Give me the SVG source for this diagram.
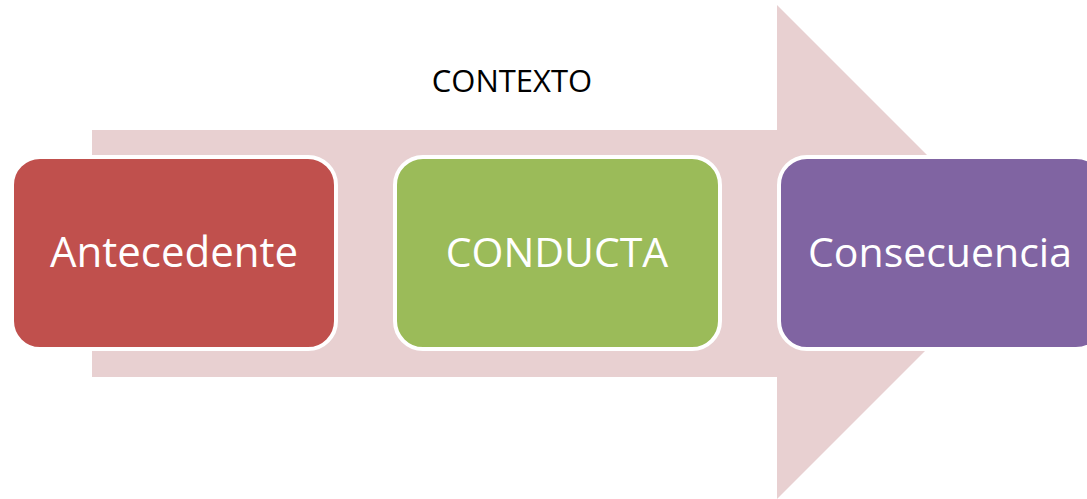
<svg xmlns="http://www.w3.org/2000/svg" width="1087" height="499" viewBox="0 0 1087 499">
<style>
.box{stroke:#ffffff;stroke-width:4}
.lbl{font-family:"Open Sans","Liberation Sans",sans-serif;font-size:41px;fill:#ffffff;text-anchor:middle}
.ctx{font-family:"Open Sans","Liberation Sans",sans-serif;font-size:31px;fill:#000000;text-anchor:middle}
</style>
<rect width="1087" height="499" fill="#ffffff"/>
<g id="context-arrow">
<polygon points="92,130 777,130 777,5 1024,252 777,499 777,377 92,377" fill="#E8D0D1"/>
<text class="ctx" x="512" y="92">CONTEXTO</text>
</g>
<g id="connectors"></g>
<g id="antecedente">
<rect class="box" x="12" y="157" width="324" height="192" rx="28" fill="#C0504D"/>
<text class="lbl" x="174" y="267" style="font-size:42px">Antecedente</text>
</g>
<g id="conducta">
<rect class="box" x="395" y="157" width="325" height="192" rx="28" fill="#9BBB59"/>
<text class="lbl" x="557" y="267">CONDUCTA</text>
</g>
<g id="consecuencia">
<rect class="box" x="779" y="157" width="325" height="192" rx="28" fill="#8064A2"/>
<text class="lbl" x="940" y="267">Consecuencia</text>
</g>
</svg>
